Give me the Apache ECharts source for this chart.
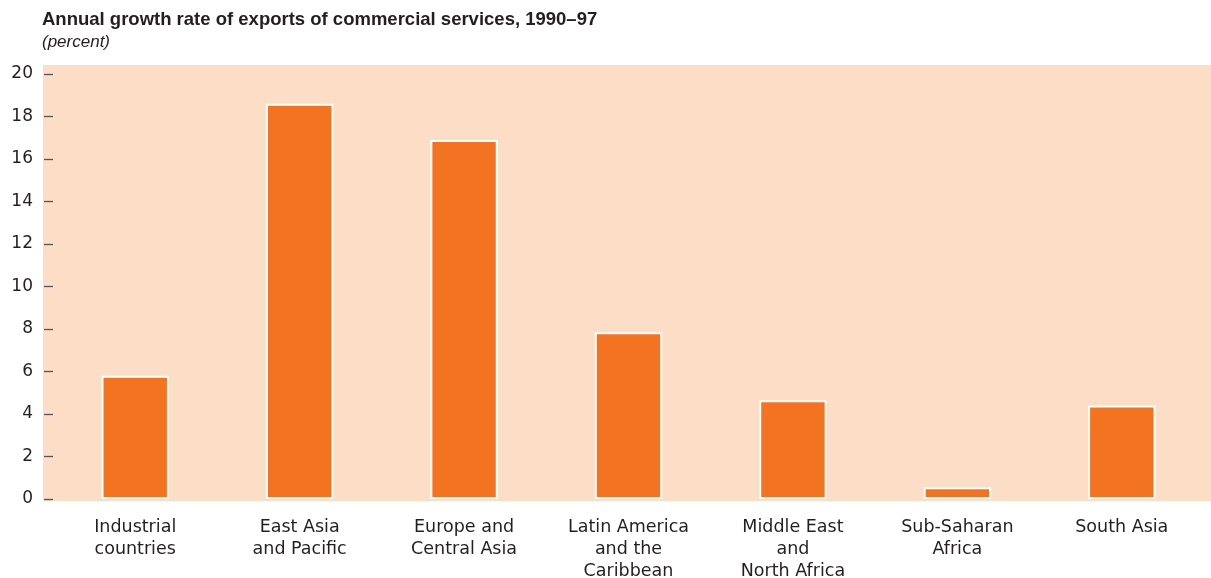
<!DOCTYPE html>
<html lang="en">
<head>
    <meta charset="UTF-8">
    <title>Commercial services exports growth</title>
    <script src="https://cdn.jsdelivr.net/npm/echarts@6.0.0/dist/echarts.min.js"></script>
    <style>
        body { margin: 0; background: #fff; }
        #chart { width: 1211px; height: 578px; }
    </style>
</head>
<body>
    <div id="chart"></div>
    <script>
        // data
        const regions = ['Industrial\ncountries', 'East Asia\nand Pacific', 'Europe and\nCentral Asia',
            'Latin America\nand the\nCaribbean', 'Middle East\nand\nNorth Africa', 'Sub-Saharan\nAfrica', 'South Asia'];
        const growthRate = [5.8, 18.6, 16.9, 7.85, 4.65, 0.55, 4.4];
        const yTicks = [0, 20, 2]; // min, max, interval

        const chart = echarts.init(document.getElementById('chart'));
        const titleFont = '"Liberation Sans", Arial, sans-serif';
        const font = '"DejaVu Sans", sans-serif';

        const option = {
            animation: false,
            textStyle: { fontFamily: font },
            title: {
                text: 'Annual growth rate of exports of commercial services, 1990–97',
                subtext: '(percent)',
                left: 37,
                top: 5,
                itemGap: 5,
                textStyle: { fontSize: 18.5, fontWeight: 'bold', color: '#231f20', fontFamily: titleFont },
                subtextStyle: { fontSize: 17, fontStyle: 'italic', color: '#231f20', fontFamily: titleFont }
            },
            // peach plot background, a bit taller than the 0-20 range
            graphic: [{
                type: 'rect',
                z: -10,
                shape: { x: 43, y: 65, width: 1168, height: 436 },
                style: { fill: '#fcdec6' }
            }],
            grid: { left: 53, right: 7, top: 74, bottom: 79, outerBoundsMode: 'none' },
            xAxis: {
                type: 'category',
                data: regions,
                axisLine: { show: false },
                axisTick: { show: false },
                axisLabel: {
                    color: '#231f20', fontSize: 17.5, lineHeight: 22, margin: 17,
                    interval: 0, fontFamily: font
                }
            },
            yAxis: {
                type: 'value',
                min: yTicks[0],
                max: yTicks[1],
                interval: yTicks[2],
                splitLine: { show: false },
                axisLine: { show: false },
                axisTick: { show: true, length: 9, lineStyle: { color: '#555555', width: 1.3 } },
                axisLabel: { color: '#231f20', fontSize: 17, margin: 20, fontFamily: font, padding: [3, 0, 0, 0] }
            },
            series: [{
                type: 'bar',
                data: growthRate,
                barWidth: '41%',
                itemStyle: { color: '#f47321', borderColor: '#ffffff', borderWidth: 2 }
            }]
        };
        chart.setOption(option);
    </script>
</body>
</html>
